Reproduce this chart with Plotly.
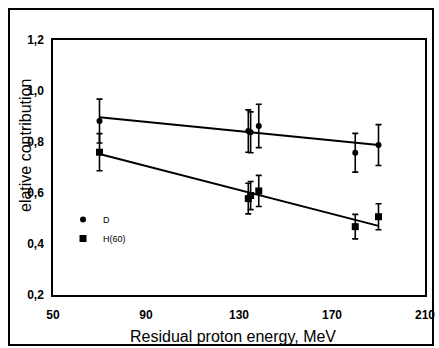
import plotly.graph_objects as go

# ---- data ----
energy_D = [70, 134, 135, 138.5, 180, 190]
contrib_D = [0.882, 0.843, 0.838, 0.863, 0.758, 0.788]
err_D = [0.086, 0.083, 0.08, 0.085, 0.076, 0.08]

energy_H = [70, 134, 135, 138.5, 180, 190]
contrib_H = [0.76, 0.578, 0.59, 0.608, 0.468, 0.507]
err_H = [0.073, 0.06, 0.055, 0.061, 0.048, 0.051]

fit_x = [70, 190]
fit_D = [0.897, 0.788]
fit_H = [0.753, 0.471]

x_ticks = [50, 90, 130, 170, 210]
y_ticks = [0.2, 0.4, 0.6, 0.8, 1.0, 1.2]

font_family = "Liberation Sans, Arial, sans-serif"

fig = go.Figure()

fig.add_trace(go.Scatter(x=fit_x, y=fit_D, mode="lines",
                         line=dict(color="black", width=2), showlegend=False, hoverinfo="skip"))
fig.add_trace(go.Scatter(x=fit_x, y=fit_H, mode="lines",
                         line=dict(color="black", width=2), showlegend=False, hoverinfo="skip"))

fig.add_trace(go.Scatter(
    x=energy_D, y=contrib_D, mode="markers", name="D",
    marker=dict(symbol="circle", size=6, color="black"),
    error_y=dict(type="data", array=err_D, visible=True, color="black", thickness=1.6, width=3),
))
fig.add_trace(go.Scatter(
    x=energy_H, y=contrib_H, mode="markers", name="H(60)",
    marker=dict(symbol="square", size=7, color="black"),
    error_y=dict(type="data", array=err_H, visible=True, color="black", thickness=1.6, width=3),
))

L, R, T, B = 53, 14, 40, 53
W, H = 439, 348
pw = W - L - R
ph = H - T - B


def px_x(p):
    return (p - L) / pw


def px_y(p):
    return (H - B - p) / ph


fig.update_layout(
    width=W, height=H,
    margin=dict(l=L, r=R, t=T, b=B, pad=0, autoexpand=False),
    paper_bgcolor="white", plot_bgcolor="white",
    separators=", ",
    font=dict(family=font_family, color="black"),
    showlegend=True,
    legend=dict(
        x=px_x(63), y=px_y(205), xanchor="left", yanchor="top",
        bgcolor="rgba(0,0,0,0)", borderwidth=0,
        font=dict(size=9, family=font_family, color="black"),
        itemwidth=30, tracegroupgap=0,
    ),
    xaxis=dict(
        range=[50, 210], tickvals=x_ticks, ticktext=[str(v) for v in x_ticks],
        showgrid=False, zeroline=False, ticks="", automargin=False,
        showline=True, linecolor="black", linewidth=1.5, mirror=True,
        tickfont=dict(size=12, family=font_family, weight="bold"),
        ticklabelstandoff=8,
    ),
    yaxis=dict(
        range=[0.2, 1.2], tickvals=y_ticks, tickformat=".1f",
        showgrid=False, zeroline=False, ticks="", automargin=False,
        showline=True, linecolor="black", linewidth=1.5, mirror=True,
        tickfont=dict(size=12, family=font_family, weight="bold"),
        ticklabelstandoff=5,
    ),
    annotations=[
        dict(text="Residual proton energy, MeV", xref="paper", yref="paper",
             x=px_x(233), y=px_y(336), xanchor="center", yanchor="middle",
             showarrow=False, font=dict(size=16, family=font_family, color="black")),
        dict(text="elative contribution", xref="paper", yref="paper", textangle=-90,
             x=px_x(25), y=px_y(146), xanchor="center", yanchor="middle",
             showarrow=False, font=dict(size=16, family=font_family, color="black")),
    ],
    shapes=[
        dict(type="rect", xref="paper", yref="paper",
             x0=px_x(9), x1=px_x(433), y0=px_y(345), y1=px_y(9),
             line=dict(color="black", width=2), fillcolor="rgba(0,0,0,0)", layer="above"),
    ],
)

fig.write_html(
    "out.html",
    config={"displayModeBar": False},
    post_script="document.body.style.margin='0';document.body.style.overflow='hidden';",
)
